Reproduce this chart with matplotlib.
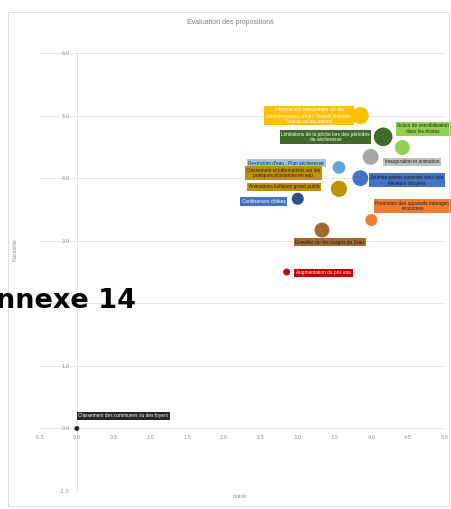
import matplotlib
matplotlib.use("Agg")
import matplotlib.pyplot as plt
from matplotlib.patches import Rectangle

# ---- data ----
labels = [
    "Informations marquantes sur les\nconsommations d'eau, l'intérêt financier,\nl'état du milieu naturel",
    "Limitations de la pêche lors des périodes\nde sécheresse",
    "Action de sensibilisation\ndans les écoles",
    "Inauguration et animation",
    "Restriction d'eau : Plan sécheresse",
    "Journée portes ouvertes chez des\néleveurs citoyens",
    "Animations ludiques grand public",
    "Classement et informations sur les\npratiques économes en eau",
    "Conférences ciblées",
    "Promotion des appareils ménagers\néconomes",
    "Enquête sur les usages de l'eau",
    "Augmentation du prix eau",
    "Classement des communes ou des foyers",
]
interet = [3.85, 4.16, 4.42, 3.99, 3.56, 3.85, 3.56, 3.56, 3.00, 4.00, 3.33, 2.85, 0.0]
faisabilite = [5.00, 4.66, 4.49, 4.34, 4.17, 4.00, 3.83, 3.83, 3.67, 3.33, 3.17, 2.50, 0.0]
poids = [3.0, 3.6, 2.3, 2.6, 1.7, 2.6, 2.6, 2.6, 1.5, 1.5, 2.3, 0.5, 0.25]

colors = ["#FFC000", "#3F6A2A", "#92D050", "#A6A6A6", "#5FA8E0", "#4472C4",
          "#BF9000", "#BF9000", "#2F4E8C", "#ED7D31", "#A06A30", "#C00000", "#262626"]
box_colors = ["#FFC000", "#3F6A2A", "#92D050", "#BFBFBF", "#9DC3E6", "#4472C4",
              "#BF9000", "#BF9000", "#4472C4", "#ED7D31", "#A06A30", "#C00000", "#262626"]
text_colors = ["white", "white", "#222222", "#222222", "#222222", "#1a1a1a",
               "#222222", "#222222", "white", "#222222", "#222222", "white", "white"]
# label offsets (points) relative to each bubble
offsets = [(-37, 0), (-41.5, 0), (15, 13.5), (30, -3.5), (-38, 3), (33.5, -1.5),
           (-39.5, 1.5), (-40, 11.5), (-24.5, -2), (30, 10), (5.5, -8.6), (26.5, -0.5), (33.5, 9)]

xticks = [-0.5, 0.0, 0.5, 1.0, 1.5, 2.0, 2.5, 3.0, 3.5, 4.0, 4.5, 5.0]
yticks = [-1.0, 0.0, 1.0, 2.0, 3.0, 4.0, 5.0, 6.0]

W, H = 451, 509
fig = plt.figure(figsize=(W / 100, H / 100), dpi=100)
fig.patches.append(Rectangle((8 / W, 3 / H), (449 - 8) / W, (497 - 3) / H,
                             transform=fig.transFigure, fill=False,
                             edgecolor="#D9D9D9", linewidth=0.6))

ax = fig.add_axes([40 / W, 1 - 491 / H, (445 - 40) / W, (491 - 53) / H])
ax.set_xlim(-0.5, 5.0)
ax.set_ylim(-1.0, 6.0)
ax.set_facecolor("none")

for y in yticks:
    ax.axhline(y, color="#E3E3E3", linewidth=0.6, zorder=0)
ax.axvline(0, color="#DADADA", linewidth=0.6, zorder=0)

for s in ["top", "right", "left", "bottom"]:
    ax.spines[s].set_visible(False)
ax.set_xticks(xticks)
ax.set_yticks(yticks)
ax.set_xticklabels([f"{v:.1f}" for v in xticks])
ax.set_yticklabels([f"{v:.1f}" for v in yticks])
ax.tick_params(axis="x", length=0, pad=5, labelsize=3.6, labelcolor="#8A8A8A")
ax.tick_params(axis="y", length=0, pad=5, labelsize=3.6, labelcolor="#8A8A8A")
ax.spines["left"].set_position(("data", 0))
ax.spines["bottom"].set_position(("data", 0))

ax.scatter(interet, faisabilite, s=[p * 50 for p in poids], c=colors,
           edgecolors="none", zorder=3)

for lab, x, y, bc, tc, off in zip(labels, interet, faisabilite, box_colors, text_colors, offsets):
    ax.annotate(lab, (x, y), xytext=off, textcoords="offset points",
                ha="center", va="center", fontsize=3.4, color=tc,
                family="Liberation Sans", linespacing=1.15, multialignment="center",
                bbox=dict(boxstyle="square,pad=0.35", fc=bc, ec="none"), zorder=4)

fig.text(230 / W, 1 - 22 / H, "Evaluation des propositions", ha="center", va="center",
         fontsize=5, color="#7F7F7F", family="Liberation Sans")
fig.text(240 / W, 1 - 497 / H, "Intérêt", ha="center", va="center",
         fontsize=3.6, color="#8A8A8A", family="Liberation Sans")
fig.text(15 / W, 1 - 250 / H, "Faisabilité", ha="center", va="center", rotation=90,
         fontsize=3.6, color="#8A8A8A", family="Liberation Sans")

fig.text(136 / W, 1 - 308 / H, "Annexe 14", ha="right", va="baseline",
         fontsize=19.5, fontweight="bold", color="black", family="DejaVu Sans", zorder=10)

fig.savefig("out.png", dpi=100)
